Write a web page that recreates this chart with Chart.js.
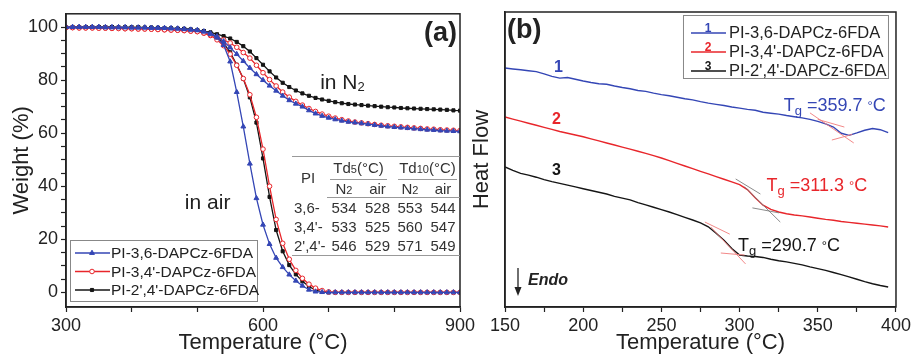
<!DOCTYPE html>
<html lang="en">
<head>
  <meta charset="UTF-8">
  <title>TGA and DSC curves - PI-DAPCz-6FDA</title>
  <script src="https://cdn.jsdelivr.net/npm/chart.js"></script>
  <style>
    body {
      margin: 0;
      background: #fff;
      font-family: "Liberation Sans", Arial, sans-serif;
    }
    .figure {
      position: relative;
      width: 914px;
      height: 358px;
      overflow: hidden;
    }
    #tgaChart { position: absolute; left: 0; top: 0; }
    #dscChart { position: absolute; left: 466px; top: 0; }
    /* Td table inside panel (a) */
    .td-table {
      position: absolute;
      left: 292px;
      top: 156px;
      width: 168px;
      border-collapse: collapse;
      table-layout: fixed;
      border-top: 1px solid #999;
      border-bottom: 1px solid #999;
      font-size: 15px;
      color: #333;
    }
    .td-table td { padding: 0; text-align: center; white-space: nowrap; overflow: visible; }
    .td-table tr.h1 td { height: 23px; }
    .td-table tr.h2 td { height: 17px; border-bottom: 1px solid #999; }
    .td-table tr.row td { height: 19px; }
    .td-table td.pi { text-align: left; padding-left: 2px; }
    .td-table small { font-size: 11px; }
    .td-table .ul { border-bottom: 1px solid #999; line-height: 20px; }
  </style>
</head>
<body>
<div class="figure">
  <canvas id="tgaChart" width="480" height="358"></canvas>
  <canvas id="dscChart" width="448" height="358"></canvas>

  <table class="td-table">
    <colgroup>
      <col style="width:35px"><col style="width:34px"><col style="width:33px"><col style="width:32px"><col style="width:34px">
    </colgroup>
    <tbody id="tdBody">
      <tr class="h1">
        <td rowspan="2" class="pi" style="padding-left:9px">PI</td>
        <td colspan="2"><div class="ul" style="margin:0 7px 0 3px">Td<small>5</small>(°C)</div></td>
        <td colspan="2"><div class="ul" style="margin:0 3px 0 4px">Td<small>10</small>(°C)</div></td>
      </tr>
      <tr class="h2">
        <td>N<small>2</small></td><td>air</td><td>N<small>2</small></td><td>air</td>
      </tr>
    </tbody>
  </table>
</div>

<script>
  // ---- panel (a): TGA, weight (%) vs temperature ----
  const tgaTemps = [300,310,320,330,340,350,360,370,380,390,400,410,420,430,440,450,460,470,480,490,
                    500,510,520,530,540,550,560,570,580,590,600,610,620,630,640,650,660,670,680,690,
                    700,710,720,730,740,750,760,770,780,790,800,810,820,830,840,850,860,870,880,890,900];

  // in N2
  const n2Blue = [100,100,100,100,100,100,99.9,99.9,99.9,99.9,99.8,99.8,99.8,99.7,99.7,99.6,99.5,99.4,99.2,99.0,
                  98.8,98.3,97.6,96.5,94.6,92.3,89.8,87.2,84.6,82.2,80.0,77.9,76.0,74.1,72.4,71.1,70.0,68.6,67.4,66.5,
                  65.8,65.2,64.7,64.3,64.0,63.7,63.4,63.1,62.8,62.5,62.3,62.1,61.9,61.7,61.5,61.3,61.2,61.0,60.9,60.8,60.7];
  const n2Red = [99.8,99.8,99.7,99.7,99.7,99.6,99.6,99.5,99.5,99.4,99.4,99.3,99.3,99.2,99.1,99.0,98.9,98.8,98.7,98.5,
                 98.3,97.8,97.1,96.2,95.2,94.0,92.4,90.4,88.3,85.6,82.8,80.2,77.8,75.5,73.6,72.0,70.6,69.3,68.2,67.2,
                 66.4,65.7,65.1,64.6,64.2,63.9,63.6,63.3,63.0,62.8,62.6,62.4,62.2,62.0,61.8,61.6,61.5,61.3,61.2,61.1,61.0];
  const n2Black = [100,100,100,100,100,100,100,100,99.9,99.9,99.9,99.9,99.8,99.8,99.7,99.6,99.5,99.4,99.3,99.1,
                   98.8,98.5,98.0,97.3,96.6,95.7,94.4,92.8,90.8,88.3,85.8,83.3,81.0,79.0,77.4,76.1,75.0,74.1,73.3,72.7,
                   72.2,71.7,71.3,71.0,70.8,70.6,70.4,70.2,70.0,69.8,69.7,69.5,69.4,69.3,69.2,69.1,69.0,68.9,68.8,68.6,68.5];

  // in air
  const airBlue = [100,100,100,100,100,100,99.9,99.9,99.9,99.9,99.8,99.8,99.8,99.7,99.7,99.6,99.5,99.4,99.2,99.0,
                   98.8,98.3,97.4,96.0,93.2,87.0,75.5,62.5,48.5,35.5,25.5,18.2,13.0,9.5,6.7,4.4,2.5,1.0,0.3,0.1,
                   0,0,0,0,0,0,0,0,0,0,0,0,0,0,0,0,0,0,0,0,0];
  const airRed = [99.8,99.8,99.7,99.7,99.7,99.6,99.6,99.5,99.5,99.4,99.4,99.3,99.3,99.2,99.1,99.0,98.9,98.8,98.7,98.5,
                  98.3,97.7,96.8,95.2,93.0,89.8,85.6,80.6,74.5,66.0,54.0,40.0,27.5,18.5,12.5,8.3,5.3,3.1,1.6,0.7,
                  0.2,0,0,0,0,0,0,0,0,0,0,0,0,0,0,0,0,0,0,0,0];
  const airBlack = [100,100,100,100,100,100,100,100,99.9,99.9,99.9,99.9,99.8,99.8,99.7,99.6,99.5,99.4,99.3,99.1,
                    98.8,98.4,97.6,96.2,94.0,90.5,85.8,80.5,73.5,64.0,50.5,36.0,23.5,15.5,10.3,6.8,4.2,2.2,0.9,0.2,
                    0,0,0,0,0,0,0,0,0,0,0,0,0,0,0,0,0,0,0,0,0];

  const tgaXTicks = [300,400,500,600,700,800,900];
  const tgaXLabels = [300,600,900];
  const tgaYTicks = [0,5,10,15,20,25,30,35,40,45,50,55,60,65,70,75,80,85,90,95,100];
  const tgaYLabels = [0,20,40,60,80,100];

  // Td table
  const tdPolymers = ['3,6-', "3,4'-", "2',4'-"];
  const td5N2 = [534, 533, 546];
  const td5Air = [528, 525, 529];
  const td10N2 = [553, 560, 571];
  const td10Air = [544, 547, 549];

  // ---- panel (b): DSC, heat flow (a.u.) vs temperature ----
  const dscTemps = [150,155,160,165,170,175,180,185,190,195,200,205,210,215,220,225,230,235,240,245,
                    250,255,260,265,270,275,280,285,290,295,300,305,310,315,320,325,330,335,340,345,
                    350,355,360,365,370,375,380,385,390,395];
  const dscBlue = [81.0,80.7,80.4,80.1,79.8,79.0,78.2,77.6,77.8,77.2,76.6,76.1,75.7,75.5,74.9,74.4,74.0,73.4,73.1,72.5,
                   72.0,71.6,71.1,70.6,70.2,69.6,69.1,68.7,68.3,67.8,67.4,67.0,66.7,66.0,65.7,65.4,64.9,64.5,64.1,63.6,
                   62.9,62.1,61.0,58.9,58.2,59.0,59.9,60.5,60.1,59.1];
  const dscRed = [64.4,63.7,63.0,62.3,61.6,60.9,60.2,59.5,58.9,58.3,57.7,57.0,56.3,55.6,54.9,54.2,53.5,52.8,52.1,51.3,
                  50.5,49.6,48.7,47.8,46.9,46.0,45.1,44.2,43.3,42.4,41.5,39.8,37.0,34.5,33.1,32.2,31.6,31.2,30.9,30.5,
                  30.1,29.7,29.4,29.0,28.7,28.4,28.1,27.8,27.5,27.1];
  const dscBlack = [47.5,46.3,45.3,44.7,44.0,43.2,42.5,41.9,41.3,40.7,40.1,39.5,38.9,38.3,37.5,36.9,36.3,35.4,34.6,33.8,
                    33.0,32.2,31.3,30.4,29.5,28.5,27.2,25.0,22.6,19.8,17.6,17.3,17.1,16.8,16.2,15.7,15.3,14.8,14.3,13.6,
                    13.0,12.4,11.7,11.0,10.2,9.4,8.6,7.9,7.3,6.8];

  // tangent construction lines for Tg: [T1, T2] and [v1, v2]
  const tanBlueT = [[345, 373], [350, 367], [359, 372]];
  const tanBlueV = [[65.8, 55.6], [63.6, 61.0], [56.6, 58.5]];
  const tanRedT = [[297.5, 313.3], [303.2, 326], [308.2, 325.3]];
  const tanRedV = [[43.4, 38.3], [40.7, 28.8], [33.6, 31.9]];
  const tanBlackT = [[277.8, 293.7], [281.6, 303.8], [288, 303.2]];
  const tanBlackV = [[28.8, 24.7], [27.1, 14.6], [18.3, 17.6]];

  const tgValues = ['359.7', '311.3', '290.7'];
  const dscXTicks = [150,175,200,225,250,275,300,325,350,375,400];
  const dscXLabels = [150,200,250,300,350,400];

  const seriesNames = ['PI-3,6-DAPCz-6FDA', "PI-3,4'-DAPCz-6FDA", "PI-2',4'-DAPCz-6FDA"];
  const BLUE = '#3446b5', RED = '#e8262b', BLACK = '#151515';
  const FONT = "'Liberation Sans', Arial, sans-serif";

  Chart.defaults.font.family = FONT;
  Chart.defaults.color = '#222';

  // fill the Td table
  const tdBody = document.getElementById('tdBody');
  tdPolymers.forEach((p, i) => {
    const row = document.createElement('tr');
    row.className = 'row';
    row.innerHTML = `<td class="pi">${p}</td><td>${td5N2[i]}</td><td>${td5Air[i]}</td><td>${td10N2[i]}</td><td>${td10Air[i]}</td>`;
    tdBody.appendChild(row);
  });

  function pts(xs, ys) {
    return xs.map((x, i) => ({ x: x, y: ys[i] }));
  }

  // box around plot area
  const framePlugin = {
    id: 'frame',
    afterDatasetsDraw(chart) {
      const a = chart.chartArea, ctx = chart.ctx;
      ctx.save();
      ctx.strokeStyle = '#222';
      ctx.lineWidth = 1.5;
      ctx.strokeRect(a.left, a.top, a.right - a.left, a.bottom - a.top);
      ctx.restore();
    }
  };

  // text with a subscript part, e.g. "in N" + "2"
  function drawParts(ctx, parts, x, y, align) {
    let total = 0;
    parts.forEach(p => { ctx.font = p.font; total += ctx.measureText(p.text).width; });
    let cx = align === 'center' ? x - total / 2 : (align === 'right' ? x - total : x);
    ctx.textAlign = 'left';
    ctx.textBaseline = 'alphabetic';
    parts.forEach(p => {
      ctx.font = p.font;
      ctx.fillText(p.text, cx, y + (p.dy || 0));
      cx += ctx.measureText(p.text).width;
    });
  }

  const tgaMarkers = [
    { color: BLUE, style: 'triangle', radius: 2.8, fill: BLUE },
    { color: RED, style: 'circle', radius: 2.3, fill: '#fff' },
    { color: BLACK, style: 'rect', radius: 2.2, fill: BLACK }
  ];

  const tgaDecor = {
    id: 'tgaDecor',
    afterDraw(chart) {
      const ctx = chart.ctx, a = chart.chartArea;
      const xs = chart.scales.x, ys = chart.scales.y;
      ctx.save();
      ctx.fillStyle = '#222';
      // (a)
      ctx.font = 'bold 27px ' + FONT;
      ctx.textAlign = 'right';
      ctx.textBaseline = 'middle';
      ctx.fillText('(a)', a.right - 3, a.top + 20);
      // in N2 / in air
      drawParts(ctx, [
        { text: 'in N', font: '21px ' + FONT },
        { text: '2', font: '13px ' + FONT, dy: 2 }
      ], xs.getPixelForValue(687), ys.getPixelForValue(76.5), 'left');
      drawParts(ctx, [{ text: 'in air', font: '21px ' + FONT }],
        xs.getPixelForValue(481), ys.getPixelForValue(31.5), 'left');

      // legend box
      const bx = a.left + 4, by = a.bottom - 67, bw = 187, bh = 61;
      ctx.fillStyle = '#fff';
      ctx.fillRect(bx, by, bw, bh);
      ctx.strokeStyle = '#888';
      ctx.lineWidth = 1;
      ctx.strokeRect(bx + 0.5, by + 0.5, bw, bh);
      seriesNames.forEach((name, i) => {
        const y = by + 13 + i * 18.5;
        const m = tgaMarkers[i];
        ctx.strokeStyle = m.color;
        ctx.lineWidth = 1.3;
        ctx.beginPath();
        ctx.moveTo(bx + 5, y);
        ctx.lineTo(bx + 40, y);
        ctx.stroke();
        ctx.fillStyle = m.fill;
        ctx.lineWidth = 1;
        Chart.helpers.drawPoint(ctx, { pointStyle: m.style, radius: m.radius, rotation: 0, borderWidth: 1 }, bx + 22, y);
        ctx.fillStyle = '#222';
        ctx.font = '15.5px ' + FONT;
        ctx.textAlign = 'left';
        ctx.textBaseline = 'middle';
        ctx.fillText(name, bx + 41, y + 1);
      });
      ctx.restore();
    }
  };

  const dscColors = [BLUE, RED, BLACK];

  const dscDecor = {
    id: 'dscDecor',
    afterDraw(chart) {
      const ctx = chart.ctx, a = chart.chartArea;
      const xs = chart.scales.x, ys = chart.scales.y;
      ctx.save();
      ctx.fillStyle = '#222';
      ctx.font = 'bold 27px ' + FONT;
      ctx.textAlign = 'left';
      ctx.textBaseline = 'middle';
      ctx.fillText('(b)', a.left + 2, a.top + 19);

      // curve numbers
      const numT = [184.2, 182.9, 182.9];
      const numV = [81.0, 63.4, 46.4];
      ctx.font = 'bold 16px ' + FONT;
      ctx.textAlign = 'center';
      numT.forEach((t, i) => {
        ctx.fillStyle = dscColors[i];
        ctx.fillText(String(i + 1), xs.getPixelForValue(t), ys.getPixelForValue(numV[i]));
      });

      // Tg labels
      const tgT = [360.8, 349.4, 331.6];
      const tgV = [66.5, 39.3, 19.0];
      tgValues.forEach((val, i) => {
        ctx.fillStyle = dscColors[i];
        drawParts(ctx, [
          { text: 'T', font: '18px ' + FONT },
          { text: 'g', font: '13px ' + FONT, dy: 4 },
          { text: ' =' + val + ' ', font: '18px ' + FONT },
          { text: '°', font: '13px ' + FONT, dy: -1 },
          { text: 'C', font: '18px ' + FONT }
        ], xs.getPixelForValue(tgT[i]), ys.getPixelForValue(tgV[i]), 'center');
      });

      // Endo arrow
      const ax = a.left + 13;
      ctx.strokeStyle = '#222';
      ctx.fillStyle = '#222';
      ctx.lineWidth = 1.3;
      ctx.beginPath();
      ctx.moveTo(ax, a.bottom - 39);
      ctx.lineTo(ax, a.bottom - 16);
      ctx.stroke();
      ctx.beginPath();
      ctx.moveTo(ax - 3.5, a.bottom - 20);
      ctx.lineTo(ax + 3.5, a.bottom - 20);
      ctx.lineTo(ax, a.bottom - 11);
      ctx.closePath();
      ctx.fill();
      ctx.font = 'italic bold 16px ' + FONT;
      ctx.textAlign = 'left';
      ctx.textBaseline = 'middle';
      ctx.fillText('Endo', ax + 10, a.bottom - 26);

      // legend
      const bx = a.right - 213, by = a.top + 3, bw = 205, bh = 63;
      ctx.fillStyle = '#fff';
      ctx.fillRect(bx, by, bw, bh);
      ctx.strokeStyle = '#888';
      ctx.lineWidth = 1;
      ctx.strokeRect(bx + 0.5, by + 0.5, bw, bh);
      seriesNames.forEach((name, i) => {
        const y = by + 18 + i * 19;
        ctx.strokeStyle = dscColors[i];
        ctx.lineWidth = 1.5;
        ctx.beginPath();
        ctx.moveTo(bx + 8, y);
        ctx.lineTo(bx + 43, y);
        ctx.stroke();
        ctx.fillStyle = dscColors[i];
        ctx.font = 'bold 12px ' + FONT;
        ctx.textAlign = 'center';
        ctx.textBaseline = 'alphabetic';
        ctx.fillText(String(i + 1), bx + 25, y - 1);
        ctx.fillStyle = '#222';
        ctx.font = '16.5px ' + FONT;
        ctx.textAlign = 'left';
        ctx.textBaseline = 'middle';
        ctx.fillText(name, bx + 46, y);
      });
      ctx.restore();
    }
  };

  function tickAxis(ticks, labels, extra) {
    return Object.assign({
      type: 'linear',
      afterBuildTicks: s => { s.ticks = ticks.map(v => ({ value: v })); },
      grid: { drawOnChartArea: false, tickLength: 5, color: '#222', tickWidth: 1.2 },
      border: { color: '#222', width: 1.5 },
      ticks: {
        autoSkip: false,
        maxRotation: 0,
        padding: 3,
        color: '#222',
        font: { size: 18 },
        callback: v => labels.includes(v) ? String(v) : ''
      }
    }, extra);
  }

  window.onload = function() {
    // panel (a)
    const tgaStyles = [
      { data: n2Blue, m: 0 }, { data: airBlue, m: 0 },
      { data: n2Red, m: 1 }, { data: airRed, m: 1 },
      { data: n2Black, m: 2 }, { data: airBlack, m: 2 }
    ];
    new Chart(document.getElementById('tgaChart'), {
      type: 'line',
      data: {
        datasets: tgaStyles.map(s => {
          const m = tgaMarkers[s.m];
          return {
            data: pts(tgaTemps, s.data),
            borderColor: m.color,
            borderWidth: 1.3,
            pointStyle: m.style,
            pointRadius: m.radius,
            pointBackgroundColor: m.fill,
            pointBorderColor: m.color,
            pointBorderWidth: 1,
            tension: 0
          };
        })
      },
      options: {
        responsive: false,
        animation: false,
        devicePixelRatio: 1,
        layout: { padding: { left: 0, right: 20, top: 12, bottom: 0 } },
        plugins: { legend: { display: false }, tooltip: { enabled: false } },
        scales: {
          x: tickAxis(tgaXTicks, tgaXLabels, {
            min: 300, max: 900,
            afterFit: s => { s.height = 51; },
            title: { display: true, text: 'Temperature (°C)', font: { size: 22 }, color: '#222', padding: { top: 0, bottom: 2 } }
          }),
          y: tickAxis(tgaYTicks, tgaYLabels, {
            min: -5.5, max: 105,
            afterFit: s => { s.width = 66; },
            title: { display: true, text: 'Weight (%)', font: { size: 22 }, color: '#222', padding: { top: 9, bottom: 0 } }
          })
        }
      },
      plugins: [framePlugin, tgaDecor]
    });

    // panel (b)
    const dscSets = [dscBlue, dscRed, dscBlack].map((vals, i) => ({
      data: pts(dscTemps, vals),
      borderColor: dscColors[i],
      borderWidth: 1.4,
      pointRadius: 0,
      tension: 0
    }));
    const tangentSets = [];
    [[tanBlueT, tanBlueV, '#f07a7a'], [tanRedT, tanRedV, '#7d7d7d'], [tanBlackT, tanBlackV, '#f07a7a']].forEach(g => {
      g[0].forEach((tt, j) => {
        tangentSets.push({
          data: pts(tt, g[1][j]),
          borderColor: g[2],
          borderWidth: 0.9,
          pointRadius: 0
        });
      });
    });

    new Chart(document.getElementById('dscChart'), {
      type: 'line',
      data: { datasets: tangentSets.concat(dscSets) },
      options: {
        responsive: false,
        animation: false,
        devicePixelRatio: 1,
        layout: { padding: { left: 0, right: 14, top: 12, bottom: 0 } },
        plugins: { legend: { display: false }, tooltip: { enabled: false } },
        scales: {
          x: tickAxis(dscXTicks, dscXLabels, {
            min: 150, max: 400,
            afterFit: s => { s.height = 51; },
            title: { display: true, text: 'Temperature (°C)', font: { size: 22 }, color: '#222', padding: { top: 0, bottom: 2 } }
          }),
          y: {
            type: 'linear',
            min: 0, max: 100,
            afterBuildTicks: s => { s.ticks = []; },
            afterFit: s => { s.width = 39; },
            grid: { drawOnChartArea: false, tickLength: 0 },
            border: { color: '#222', width: 1.5 },
            ticks: { display: false },
            title: { display: true, text: 'Heat Flow', font: { size: 22 }, color: '#222', padding: { top: 3, bottom: 0 } }
          }
        }
      },
      plugins: [framePlugin, dscDecor]
    });
  };
</script>
</body>
</html>
